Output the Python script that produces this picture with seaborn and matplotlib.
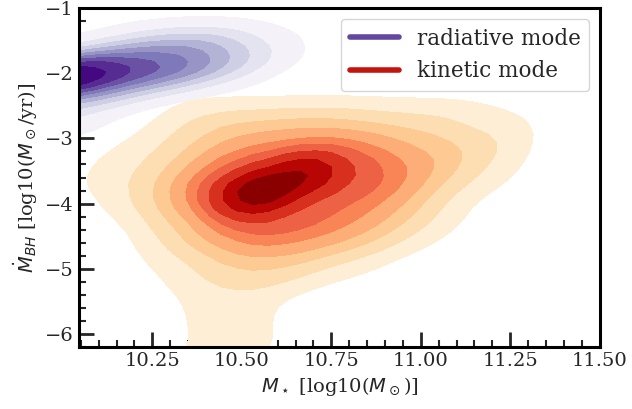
import matplotlib
matplotlib.use("Agg")
import matplotlib.pyplot as plt
from matplotlib.lines import Line2D
from matplotlib.ticker import AutoMinorLocator
from matplotlib.colors import ListedColormap, BoundaryNorm
from matplotlib.contour import ContourSet
import numpy as np
import pandas as pd
import seaborn as sns

# relative density, on a coarse grid (0 = empty)
# radiative mode
rad_mstar = [9.95, 10.05, 10.15, 10.25, 10.35, 10.45, 10.55, 10.65]
rad_mdot = [-1.2, -1.4, -1.6, -1.8, -2.0, -2.2, -2.4, -2.6, -2.8, -3.0]
rad_dens = [
    [0.0, 0.0, 0.3, 0.5, 0.6, 0.5, 0.2, 0.0],
    [0.2, 0.3, 1.0, 2.0, 2.3, 2.2, 1.0, 0.3],
    [0.5, 1.5, 3.0, 3.8, 4.0, 3.0, 1.8, 0.4],
    [5.0, 5.0, 5.0, 5.0, 4.5, 3.2, 2.0, 0.4],
    [9.0, 9.0, 7.0, 5.5, 4.5, 2.5, 1.0, 0.0],
    [7.0, 6.0, 4.5, 3.0, 2.0, 1.0, 0.3, 0.0],
    [4.0, 3.5, 2.2, 1.0, 0.3, 0.0, 0.0, 0.0],
    [2.5, 1.5, 0.6, 0.0, 0.0, 0.0, 0.0, 0.0],
    [1.5, 1.0, 0.2, 0.0, 0.0, 0.0, 0.0, 0.0],
    [0.8, 0.5, 0.0, 0.0, 0.0, 0.0, 0.0, 0.0],
]
# the sharp peak at the left edge
rad_peak_mstar = [10.0]
rad_peak_mdot = [-2.1]
rad_peak_w = [9.0]

# kinetic mode
kin_mstar = [10.05, 10.15, 10.25, 10.35, 10.45, 10.55, 10.65, 10.75,
             10.85, 10.95, 11.05, 11.15, 11.25, 11.35, 11.45]
kin_mdot = [-2.5, -2.8, -3.1, -3.4, -3.7, -4.0, -4.3, -4.6, -4.9,
            -5.2, -5.5, -5.8, -6.1, -6.4]
kin_dens = [
    [0.0, 0.0, 0.2, 1.0, 1.1, 1.1, 1.2, 1.2, 1.1, 1.0, 1.0, 0.8, 0.5, 0.2, 0.0],
    [0.0, 0.0, 0.7, 1.6, 2.3, 2.5, 2.7, 2.7, 2.3, 2.0, 1.8, 1.2, 1.0, 0.3, 0.6],
    [0.1, 0.6, 1.2, 2.0, 3.2, 3.8, 4.2, 4.5, 4.0, 3.0, 2.5, 2.0, 1.3, 0.2, 0.0],
    [0.5, 1.0, 1.6, 2.8, 4.5, 5.8, 6.4, 6.4, 5.3, 4.0, 3.0, 1.8, 0.9, 0.1, 0.0],
    [0.6, 1.2, 2.0, 4.0, 6.5, 7.0, 7.0, 6.5, 5.5, 4.0, 2.2, 1.2, 0.5, 0.0, 0.0],
    [0.2, 1.0, 2.0, 3.8, 6.0, 6.5, 5.8, 5.0, 4.2, 3.0, 1.5, 0.5, 0.0, 0.0, 0.0],
    [0.0, 0.4, 1.5, 2.6, 4.8, 6.0, 5.5, 4.5, 3.5, 2.2, 1.2, 0.3, 0.0, 0.0, 0.0],
    [0.0, 0.1, 1.1, 2.2, 3.3, 4.2, 3.8, 3.2, 2.3, 1.3, 0.5, 0.0, 0.0, 0.0, 0.0],
    [0.0, 0.0, 0.7, 1.3, 2.2, 2.6, 2.3, 1.5, 1.0, 0.3, 0.0, 0.0, 0.0, 0.0, 0.0],
    [0.0, 0.0, 0.4, 1.1, 1.6, 1.7, 1.3, 0.6, 0.3, 0.0, 0.0, 0.0, 0.0, 0.0, 0.0],
    [0.0, 0.0, 0.0, 0.8, 1.1, 1.0, 0.2, 0.0, 0.0, 0.0, 0.0, 0.0, 0.0, 0.0, 0.0],
    [0.0, 0.0, 0.0, 0.7, 1.0, 0.9, 0.2, 0.0, 0.0, 0.0, 0.0, 0.0, 0.0, 0.0, 0.0],
    [0.0, 0.0, 0.0, 0.7, 1.0, 0.9, 0.3, 0.0, 0.0, 0.0, 0.0, 0.0, 0.0, 0.0, 0.0],
    [0.0, 0.0, 0.0, 0.8, 1.0, 0.8, 0.0, 0.0, 0.0, 0.0, 0.0, 0.0, 0.0, 0.0, 0.0],
]
# the two dark cores
kin_peak_mstar = [10.55, 10.67]
kin_peak_mdot = [-3.82, -3.55]
kin_peak_w = [28.0, 15.0]


def to_long(xs, ys, dens, px, py, pw):
    df = pd.DataFrame(dens, index=ys, columns=xs)
    df = df.stack().rename("w").reset_index()
    df.columns = ["mdot", "mstar", "w"]
    peaks = pd.DataFrame({"mdot": py, "mstar": px, "w": pw})
    df = pd.concat([df, peaks], ignore_index=True)
    return df[df["w"] > 0]


rad = to_long(rad_mstar, rad_mdot, rad_dens, rad_peak_mstar, rad_peak_mdot, rad_peak_w)
kin = to_long(kin_mstar, kin_mdot, kin_dens, kin_peak_mstar, kin_peak_mdot, kin_peak_w)

sns.set_style("white")
plt.rcParams["font.family"] = "DejaVu Serif"
plt.rcParams["mathtext.fontset"] = "dejavusans"
plt.rcParams["font.size"] = 14

fig, ax = plt.subplots(figsize=(6.32, 4.09), dpi=100)
fig.subplots_adjust(left=0.125, right=0.949, top=0.980, bottom=0.152)

sns.kdeplot(data=rad, x="mstar", y="mdot", weights="w", fill=True, cmap="Purples",
            levels=10, thresh=0.05, gridsize=40, bw_method=0.45, ax=ax)
sns.kdeplot(data=kin, x="mstar", y="mdot", weights="w", fill=True, cmap="OrRd",
            levels=10, thresh=0.05, gridsize=45, bw_method=0.26, ax=ax)

# one shade per filled band, evenly spread over the colormap
sets = [c for c in ax.collections if isinstance(c, ContourSet)]
for cs, cmap in zip(sets, [plt.cm.Purples, plt.cm.OrRd]):
    n = len(cs.levels) - 1
    cs.set_cmap(ListedColormap(cmap(np.linspace(0.08, 0.97, n))))
    cs.set_norm(BoundaryNorm(cs.levels, n))

ax.set_xlim(10.045, 11.5)
ax.set_ylim(-6.2, -1)
ax.set_xticks([10.25, 10.5, 10.75, 11.0, 11.25, 11.5])
ax.set_yticks([-6, -5, -4, -3, -2, -1])
ax.xaxis.set_minor_locator(AutoMinorLocator(5))
ax.yaxis.set_minor_locator(AutoMinorLocator(5))
ax.tick_params(which="major", direction="in", length=11, width=2, labelsize=14,
               bottom=True, left=True)
ax.tick_params(which="minor", direction="in", length=5, width=1.5, bottom=True, left=True)
for s in ax.spines.values():
    s.set_linewidth(2.2)
    s.set_color("black")

ax.set_xlabel(r"$M_\star$ [log10($M_\odot$)]", fontsize=14)
ax.set_ylabel(r"$\dot{M}_{BH}$ [log10($M_\odot$/yr)]", fontsize=14)

handles = [Line2D([], [], color=plt.cm.Purples(0.78), lw=4),
           Line2D([], [], color=plt.cm.OrRd(0.82), lw=4)]
ax.legend(handles, ["radiative mode", "kinetic mode"], loc="upper right",
          fontsize=15.5, handlelength=2.3, frameon=True)

fig.savefig("out.png", dpi=100)
